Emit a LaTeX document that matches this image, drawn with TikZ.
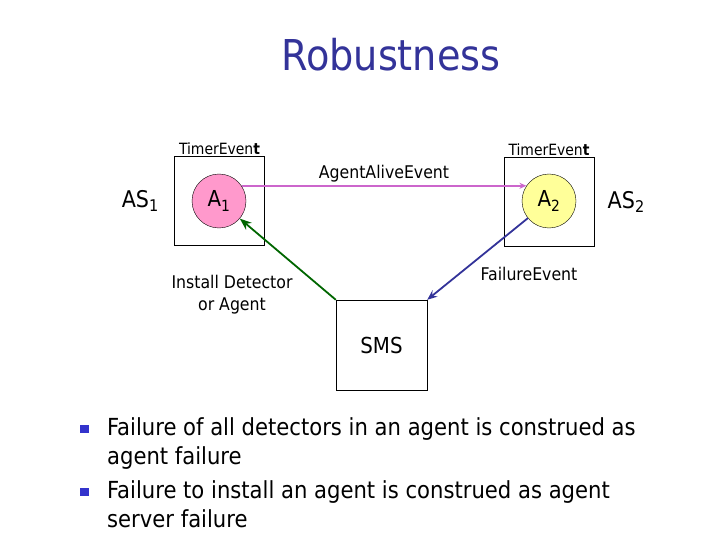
\documentclass[tikz,border=0pt]{standalone}
\usepackage{fontspec}
\setmainfont{DejaVu Sans Condensed}
\usetikzlibrary{positioning, arrows.meta}
\definecolor{titleblue}{HTML}{333399}
\definecolor{bulletblue}{HTML}{3333CC}
\definecolor{alivepink}{HTML}{CC66CC}
\definecolor{agentpink}{HTML}{FF99CC}
\definecolor{agentyellow}{HTML}{FFFF99}
\definecolor{installgreen}{HTML}{006600}

\begin{document}
\begin{tikzpicture}[x=1pt, y=-1pt,
    server/.style={draw=black, rectangle, minimum width=90pt, minimum height=89pt, inner sep=0pt},
    agent/.style={draw=black, circle, minimum size=54pt, inner sep=0pt, font=\fontsize{22}{24}\selectfont},
    timerlabel/.style={font=\fontsize{15.5}{18}\selectfont, inner sep=1pt},
    evlabel/.style={font=\fontsize{17.5}{22}\selectfont, inner sep=1pt},
    aslabel/.style={font=\fontsize{23}{24}\selectfont},
    bullettext/.style={font=\fontsize{23.5}{29.5}\selectfont, align=left, anchor=north west, inner sep=0pt},
    bulletmark/.style={fill=bulletblue, rectangle, minimum width=9pt, minimum height=8pt, inner sep=0pt},
    msg/.style={line width=1.8pt}
]
\useasboundingbox (0,0) rectangle (720,540);

% Titel
\node[text=titleblue, font=\fontsize{42.5}{46}\selectfont] (title) at (391,55) {Robustness};

% Agent-Server und Agenten
\node[server] (as1) at (219.5,201) {};
\node[server] (as2) at (549,202) {};
\node[agent, fill=agentpink] (a1) at (219,201) {A\textsubscript{1}};
\node[agent, fill=agentyellow] (a2) at (549,201) {A\textsubscript{2}};
\node[timerlabel, above=0pt of as1] (timer1) {TimerEven\textbf{t}};
\node[timerlabel, above=0pt of as2] (timer2) {TimerEven\textbf{t}};
\node[aslabel, left=12pt of as1] (as1lbl) {AS\textsubscript{1}};
\node[aslabel, right=10pt of as2] (as2lbl) {AS\textsubscript{2}};

% SMS
\node[server, minimum width=91pt, minimum height=90pt, font=\fontsize{22}{24}\selectfont] (sms) at (381.5,345) {SMS};

% Kanten
\draw[msg, alivepink, -{Stealth[length=7pt, width=6pt]}] (a1.34) -- (a2.146)
    node[midway, above=2pt, evlabel, black] (alive) {AgentAliveEvent};
\draw[msg, installgreen, -{Stealth[length=12pt, width=9pt]}] (sms.north west) -- (a1);
\draw[msg, titleblue, -{Stealth[length=10pt, width=8pt]}] (a2) -- (sms.north east);
\node[evlabel, align=center] (install) at (232,295) {Install Detector\\or Agent};
\node[evlabel] (failure) at (529,274) {FailureEvent};

% Aufzählung
\node[bulletmark] (b1) at (84.5,429) {};
\node[bulletmark] (b2) at (84.5,492) {};
\node[bullettext] (t1) at (107,417) {Failure of all detectors in an agent is construed as\\agent failure};
\node[bullettext] (t2) at (107,480) {Failure to install an agent is construed as agent\\server failure};
\end{tikzpicture}
\end{document}
